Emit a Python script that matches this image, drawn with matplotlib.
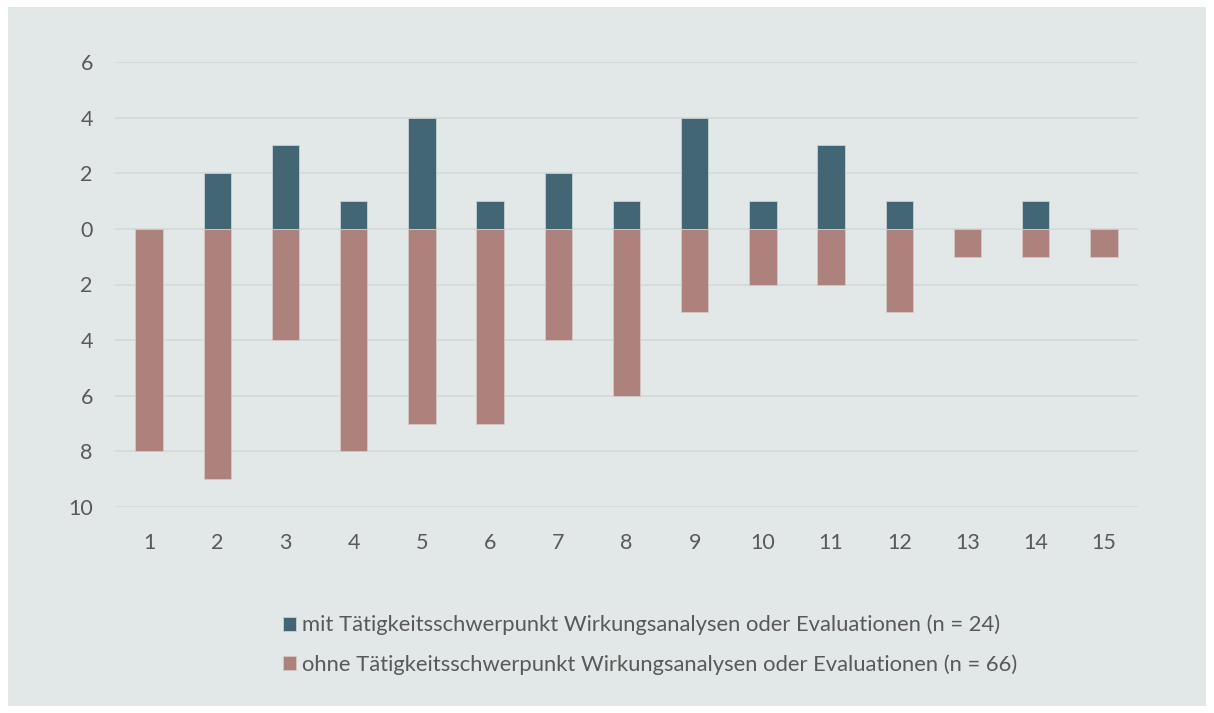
import matplotlib.pyplot as plt
import numpy as np
from matplotlib.patches import Rectangle

plt.rcParams['font.family'] = ['Lato', 'DejaVu Sans']

# data
gruppen = list(range(1, 16))
mit = [0, 2, 3, 1, 4, 1, 2, 1, 4, 1, 3, 1, 0, 1, 0]
ohne = [8, 9, 4, 8, 7, 7, 4, 6, 3, 2, 2, 3, 1, 1, 1]
y_ticks = [6, 4, 2, 0, -2, -4, -6, -8, -10]

label_mit = 'mit Tätigkeitsschwerpunkt Wirkungsanalysen oder Evaluationen (n = 24)'
label_ohne = 'ohne Tätigkeitsschwerpunkt Wirkungsanalysen oder Evaluationen (n = 66)'

bg = '#e2e7e7'
c_mit = '#426673'
c_ohne = '#ae827c'
txt = '#595959'

fig = plt.figure(figsize=(12.14, 7.13), dpi=100)
fig.patch.set_facecolor('white')
fig.patches.append(Rectangle((8 / 1214, 7 / 713), 1198 / 1214, 699 / 713,
                             transform=fig.transFigure, facecolor=bg,
                             edgecolor='none', zorder=-5))

ax = fig.add_axes([115 / 1214, 206 / 713, 1023 / 1214, 445 / 713])
ax.set_facecolor('none')

x = np.array(gruppen)
ax.bar(x, mit, width=0.4, color=c_mit, edgecolor='#c8d2d3', linewidth=0.6,
       label=label_mit, zorder=3)
ax.bar(x, [-v for v in ohne], width=0.4, color=c_ohne, edgecolor='#d6c8c6',
       linewidth=0.6, label=label_ohne, zorder=3)

ax.set_xlim(0.5, 15.5)
ax.set_ylim(-10, 6)
ax.set_yticks(y_ticks)
ax.set_yticklabels([str(abs(t)) for t in y_ticks])
ax.set_xticks(x)
ax.set_xticklabels([str(g) for g in gruppen])
ax.grid(axis='y', color='#d3d8d9', linewidth=1.2, zorder=1)
for s in ax.spines.values():
    s.set_visible(False)
ax.tick_params(length=0, labelsize=15.5, labelcolor=txt)
ax.tick_params(axis='y', pad=16)
ax.tick_params(axis='x', pad=19)

fig.legend(loc='upper left', bbox_to_anchor=(263 / 1214, 1 - 595 / 713),
           frameon=False, fontsize=15.8, labelcolor=txt, handlelength=0.6,
           handleheight=0.6, handletextpad=0.3, labelspacing=0.85)

fig.savefig('out.png', dpi=100)
